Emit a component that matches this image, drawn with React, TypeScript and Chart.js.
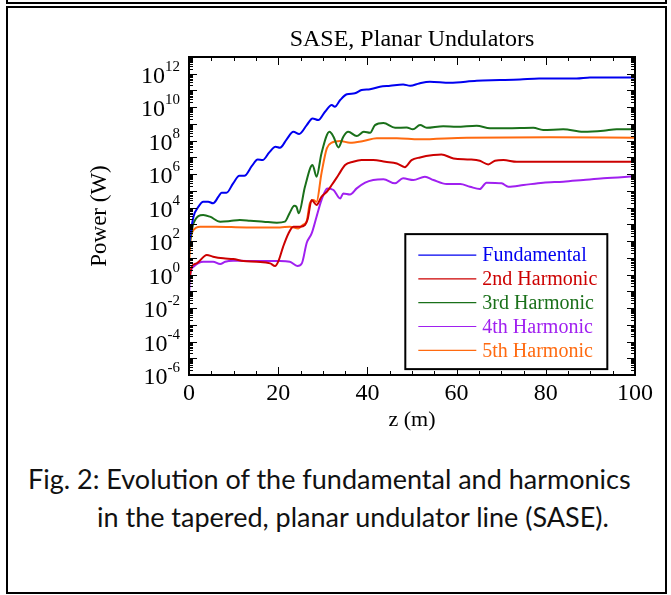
import React, { useEffect, useRef } from "react";
import { Chart, registerables } from "chart.js";

Chart.register(...registerables);

// ---------- data ----------
const SERIES_LABELS = ["Fundamental", "2nd Harmonic", "3rd Harmonic", "4th Harmonic", "5th Harmonic"];
const SERIES_COLORS = ["#0000f0", "#cc0000", "#1a701a", "#a020f0", "#ff6a10"];

const fundamentalZ = [0, 0.2, 1.0, 2.1, 3.2, 4.3, 5.4, 6.6, 7.3, 8.4, 9.9, 11.3, 12.4, 14.1, 15.4, 16.5, 18.0, 19.4, 20.4, 21.9, 23.4, 24.7, 26.4, 27.7, 29.0, 30.5, 32.0, 32.7, 33.9, 35.4, 37.2, 38.7, 40.6, 42.8, 45.1, 48.0, 49.6, 51.6, 54.0, 58.5, 64.5, 69.7, 74.2, 78.5, 86.9, 89.9, 100];
const fundamentalP = [63, 158, 2.88e3, 1.12e4, 2.24e4, 2.24e4, 1.82e4, 4.47e4, 7.76e4, 7.76e4, 2.82e5, 7.94e5, 7.94e5, 3.09e6, 7.59e6, 6.92e6, 2.0e7, 4.37e7, 3.8e7, 1.2e8, 3.39e8, 2.51e8, 8.51e8, 2.14e9, 1.7e9, 5.37e9, 1.35e10, 1.07e10, 2.69e10, 5.89e10, 6.76e10, 1.07e11, 1.2e11, 1.66e11, 1.91e11, 2.29e11, 1.91e11, 2.63e11, 3.31e11, 2.88e11, 3.8e11, 4.17e11, 4.57e11, 5.25e11, 5.25e11, 6.03e11, 6.03e11];

const harmonic2Z = [0, 0.6, 1.7, 4.0, 5.4, 7.7, 9.9, 12.2, 15.2, 18.2, 19.3, 20.0, 21.1, 22.3, 23.4, 24.9, 26.0, 26.6, 27.5, 28.6, 29.7, 30.9, 32.0, 33.5, 35.0, 36.8, 38.7, 41.3, 44.0, 46.6, 48.4, 49.9, 51.8, 54.8, 56.6, 59.3, 63.0, 65.2, 67.1, 68.6, 70.5, 73.5, 100];
const harmonic2P = [0.316, 2.95, 4.68, 14.8, 11.7, 9.33, 8.51, 6.46, 5.89, 4.68, 3.24, 5.89, 45.7, 288, 724, 724, 912, 2.0e3, 2.82e4, 1.45e4, 4.47e4, 8.91e4, 2.24e5, 8.91e5, 3.55e6, 5.5e6, 6.92e6, 6.92e6, 5.5e6, 4.37e6, 2.63e6, 6.92e6, 1.0e7, 1.38e7, 1.51e7, 8.71e6, 7.59e6, 6.31e6, 3.8e6, 6.31e6, 6.92e6, 5.5e6, 5.5e6];

const harmonic3Z = [0, 0.3, 1.0, 3.2, 4.7, 7.0, 9.2, 11.4, 13.7, 16.7, 19.7, 21.5, 22.6, 23.6, 24.1, 24.6, 26.0, 27.7, 28.6, 29.7, 31.5, 32.4, 33.5, 34.6, 35.7, 37.6, 39.2, 40.6, 41.7, 43.6, 46.2, 48.8, 50.2, 51.8, 53.3, 57.0, 60.0, 64.5, 67.5, 71.2, 77.2, 79.4, 83.9, 88.4, 92.9, 95.9, 100];
const harmonic3P = [31.6, 126, 1.15e3, 3.63e3, 2.88e3, 1.45e3, 1.58e3, 1.82e3, 1.66e3, 1.45e3, 1.26e3, 1.45e3, 5.0e3, 1.29e4, 1.12e4, 4.57e3, 1.78e5, 3.55e6, 7.08e5, 1.74e7, 3.39e8, 1.74e8, 3.98e7, 1.74e8, 3.39e8, 1.91e8, 3.39e8, 2.95e8, 8.51e8, 1.12e9, 5.89e8, 6.17e8, 4.79e8, 8.51e8, 5.89e8, 7.41e8, 6.76e8, 7.76e8, 5.5e8, 5.5e8, 5.89e8, 4.37e8, 4.79e8, 3.39e8, 3.89e8, 4.79e8, 4.79e8];

const harmonic4Z = [0, 0.2, 1.0, 3.2, 5.4, 7.0, 8.1, 9.9, 12.9, 16.7, 20.4, 22.6, 24.3, 25.3, 26.4, 27.5, 28.6, 29.7, 31.0, 32.4, 33.9, 34.6, 36.1, 37.6, 39.5, 41.3, 43.6, 46.2, 48.0, 50.3, 52.9, 54.8, 57.8, 60.8, 63.0, 65.2, 66.7, 70.1, 71.6, 75.0, 79.4, 83.9, 88.4, 92.9, 100];
const harmonic4P = [0.0316, 0.741, 2.95, 5.89, 5.89, 4.27, 5.89, 6.76, 6.46, 6.46, 6.46, 5.89, 3.24, 4.68, 79.4, 288, 2.88e3, 2.82e4, 1.41e5, 1.12e5, 3.55e4, 7.08e4, 6.17e4, 1.41e5, 3.09e5, 4.47e5, 5.01e5, 2.82e5, 5.62e5, 4.47e5, 7.08e5, 4.47e5, 2.57e5, 2.57e5, 1.78e5, 1.29e5, 3.09e5, 2.82e5, 1.78e5, 2.24e5, 3.09e5, 3.55e5, 4.47e5, 5.62e5, 7.41e5];

const harmonic5Z = [0, 0.3, 1.0, 2.5, 6.0, 12.9, 20.4, 22.6, 24.5, 25.5, 26.4, 27.1, 27.9, 28.6, 29.7, 30.9, 32.0, 33.9, 36.1, 39.1, 42.1, 46.6, 51.6, 62.3, 81.0, 100];
const harmonic5P = [3.16, 79.4, 457, 724, 724, 661, 661, 724, 575, 912, 1.58e3, 1.82e4, 2.82e4, 2.24e4, 1.12e6, 3.47e7, 7.59e7, 9.55e7, 7.59e7, 9.55e7, 1.38e8, 1.38e8, 1.2e8, 1.51e8, 1.58e8, 1.51e8];

const X_MIN = 0;
const X_MAX = 100;
const X_LABELS = [0, 20, 40, 60, 80, 100];
const X_MINOR_STEP = 5;
const Y_MIN = 1e-6;
const Y_MAX = 1e13;
const Y_LABEL_EXPONENTS = [-6, -4, -2, 0, 2, 4, 6, 8, 10, 12];

const TITLE = "SASE, Planar Undulators";
const X_TITLE = "z (m)";
const Y_TITLE = "Power (W)";
const CAPTION_1 = "Fig. 2: Evolution of the fundamental and harmonics";
const CAPTION_2 = "in the tapered, planar undulator line (SASE).";

const SERIF = "'Liberation Serif', 'Times New Roman', serif";

function toPoints(zs: number[], ps: number[]) {
  return zs.map((z, i) => ({ x: z, y: ps[i] }));
}

const decorPlugin = {
  id: "decor",
  afterDatasetsDraw(chart: any) {
    const { ctx, chartArea: a, scales } = chart;
    const xs = scales.x;
    const ys = scales.y;
    ctx.save();
    ctx.strokeStyle = "#000";
    ctx.fillStyle = "#000";
    ctx.lineWidth = 1;
    const seg = (x1: number, y1: number, x2: number, y2: number) => {
      ctx.beginPath();
      ctx.moveTo(x1, y1);
      ctx.lineTo(x2, y2);
      ctx.stroke();
    };
    // x ticks (inside, bottom and top)
    for (let v = X_MIN; v <= X_MAX; v += X_MINOR_STEP) {
      const px = Math.round(xs.getPixelForValue(v)) + 0.5;
      const len = v % 20 === 0 ? 8 : 4;
      seg(px, a.bottom, px, a.bottom - len);
      seg(px, a.top, px, a.top + len);
    }
    // y ticks (inside, left and right)
    const kMin = Math.round(Math.log10(Y_MIN));
    const kMax = Math.round(Math.log10(Y_MAX));
    for (let k = kMin; k < kMax; k++) {
      for (let m = 1; m <= 9; m++) {
        const py = Math.round(ys.getPixelForValue(m * Math.pow(10, k))) + 0.5;
        const len = m === 1 ? 8 : 4;
        seg(a.left, py, a.left + len, py);
        seg(a.right, py, a.right - len, py);
      }
    }
    // frame
    ctx.lineWidth = 2;
    ctx.strokeRect(a.left, a.top, a.right - a.left, a.bottom - a.top);

    // x labels
    ctx.font = `24px ${SERIF}`;
    ctx.textAlign = "center";
    ctx.textBaseline = "middle";
    X_LABELS.forEach((v) => {
      ctx.fillText(String(v), xs.getPixelForValue(v), a.bottom + 19);
    });
    // y labels 10^k
    Y_LABEL_EXPONENTS.forEach((k) => {
      const py = ys.getPixelForValue(Math.pow(10, k));
      const exp = String(k);
      ctx.font = `15px ${SERIF}`;
      const ew = ctx.measureText(exp).width;
      const right = a.left - 9;
      ctx.textAlign = "right";
      ctx.textBaseline = "alphabetic";
      ctx.fillText(exp, right, py - 3);
      ctx.font = `24px ${SERIF}`;
      ctx.fillText("10", right - ew, py + 9);
    });
    // titles
    ctx.textAlign = "center";
    ctx.textBaseline = "middle";
    ctx.font = `24px ${SERIF}`;
    ctx.fillText(TITLE, (a.left + a.right) / 2, a.top - 17);
    ctx.font = `22px ${SERIF}`;
    ctx.fillText(X_TITLE, (a.left + a.right) / 2, a.bottom + 45);
    ctx.save();
    ctx.translate(100, (a.top + a.bottom) / 2);
    ctx.rotate(-Math.PI / 2);
    ctx.font = `23px ${SERIF}`;
    ctx.fillText(Y_TITLE, 0, 0);
    ctx.restore();

    // legend box
    const lx = xs.getPixelForValue(48.5);
    const lw = 202;
    const ly = ys.getPixelForValue(3e2) + 1;
    const lh = 135;
    ctx.fillStyle = "#fff";
    ctx.fillRect(lx, ly, lw, lh);
    ctx.lineWidth = 2;
    ctx.strokeStyle = "#000";
    ctx.strokeRect(lx, ly, lw, lh);
    ctx.font = `20px ${SERIF}`;
    ctx.textAlign = "left";
    ctx.textBaseline = "middle";
    chart.data.datasets.forEach((ds: any, i: number) => {
      const cy = ly + 21 + i * 23.8;
      ctx.strokeStyle = ds.borderColor;
      ctx.lineWidth = 1.2;
      seg(lx + 13, cy, lx + 71, cy);
      ctx.fillStyle = ds.borderColor;
      ctx.fillText(ds.label, lx + 77, cy + 1);
    });
    ctx.restore();
  },
};

export default function App() {
  const canvasRef = useRef<HTMLCanvasElement | null>(null);

  useEffect(() => {
    const canvas = canvasRef.current;
    if (!canvas) return;
    const seriesZ = [fundamentalZ, harmonic2Z, harmonic3Z, harmonic4Z, harmonic5Z];
    const seriesP = [fundamentalP, harmonic2P, harmonic3P, harmonic4P, harmonic5P];
    const chart = new Chart(canvas, {
      type: "line",
      data: {
        datasets: SERIES_LABELS.map((label, i) => ({
          label,
          data: toPoints(seriesZ[i], seriesP[i]),
          borderColor: SERIES_COLORS[i],
          backgroundColor: SERIES_COLORS[i],
          borderWidth: 2,
          pointRadius: 0,
          fill: false,
          cubicInterpolationMode: "monotone" as const,
        })),
      },
      options: {
        responsive: false,
        animation: false,
        devicePixelRatio: 1,
        layout: { padding: { left: 189, top: 57, right: 36, bottom: 65 } },
        plugins: { legend: { display: false }, title: { display: false }, tooltip: { enabled: false } },
        scales: {
          x: { type: "linear", min: X_MIN, max: X_MAX, display: false },
          y: { type: "logarithmic", min: Y_MIN, max: Y_MAX, display: false },
        },
      },
      plugins: [decorPlugin],
    });
    return () => chart.destroy();
  }, []);

  const captionStyle: React.CSSProperties = {
    position: "absolute",
    fontFamily: "Lato, 'Open Sans', sans-serif",
    fontSize: "27px",
    lineHeight: "32px",
    color: "#111",
    whiteSpace: "nowrap",
    margin: 0,
  };

  return (
    <div>
      <div
        style={{
          position: "absolute",
          left: 6,
          top: -20,
          width: 661,
          height: 24,
          boxSizing: "border-box",
          border: "2px solid #000",
        }}
      />
      <div
        style={{
          position: "absolute",
          left: 6,
          top: 6,
          width: 661,
          height: 588,
          boxSizing: "border-box",
          border: "2px solid #000",
          background: "#fff",
        }}
      />
      <canvas
        ref={canvasRef}
        width={671}
        height={440}
        style={{ position: "absolute", left: 0, top: 0, width: 671, height: 440, display: "block" }}
      />
      <div style={{ ...captionStyle, left: 28, top: 463 }}>{CAPTION_1}</div>
      <div style={{ ...captionStyle, left: 97, top: 501 }}>{CAPTION_2}</div>
    </div>
  );
}
